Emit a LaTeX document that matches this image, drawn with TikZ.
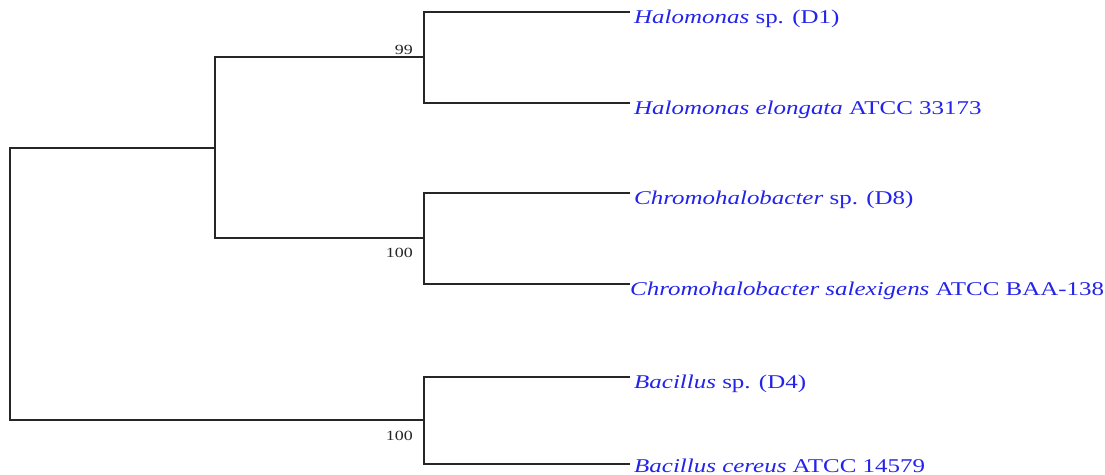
\documentclass[tikz,border=0pt]{standalone}
\usepackage{fontspec}
\setmainfont{Liberation Serif}
\usepackage{graphicx}
\usetikzlibrary{positioning}
\definecolor{taxonblue}{RGB}{35,35,235}
\newcommand{\wide}[1]{\scalebox{1.28}[1]{#1}}
\tikzset{
  branch/.style={line width=1.3pt, black!85},
  taxon/.style={anchor=base west, inner xsep=4pt, inner ysep=0pt, text=taxonblue, font=\fontsize{19.5}{22}\selectfont},
  boot/.style={inner sep=1pt, font=\fontsize{14}{16}\selectfont, text=black!85}
}

\begin{document}
\begin{tikzpicture}[x=1pt,y=-1pt]
\useasboundingbox (0,0) rectangle (1105,474);
% internal nodes
\coordinate (root) at (10,284);
\coordinate (na) at (215,148);
\coordinate (n1) at (424,57);
\coordinate (n2) at (424,238);
\coordinate (n3) at (424,420);
% leaf tips
\coordinate (l1) at (630,12);
\coordinate (l2) at (630,103);
\coordinate (l3) at (630,193);
\coordinate (l4) at (630,284);
\coordinate (l5) at (630,377);
\coordinate (l6) at (630,464);
% taxa
\node (t1) [taxon] at ([yshift=-11pt]l1) {\wide{\textit{Halomonas} sp. (D1)}};
\node (t2) [taxon] at ([yshift=-11pt]l2) {\wide{\textit{Halomonas elongata} ATCC 33173}};
\node (t3) [taxon] at ([yshift=-11pt]l3) {\wide{\textit{Chromohalobacter} sp. (D8)}};
\node (t4) [taxon, inner xsep=0pt] at ([yshift=-11pt]l4) {\wide{\textit{Chromohalobacter salexigens} ATCC BAA-138}};
\node (t5) [taxon] at ([yshift=-11pt]l5) {\wide{\textit{Bacillus} sp. (D4)}};
\node (t6) [taxon] at ([yshift=-8pt]l6) {\wide{\textit{Bacillus cereus} ATCC 14579}};

\draw [branch] (root) |- (na);
\draw [branch] (root) |- (n3);
\draw [branch] (na) |- (n1);
\draw [branch] (na) |- (n2);
\draw [branch] (n1) |- (l1);
\draw [branch] (n1) |- (l2);
\draw [branch] (n2) |- (l3);
\draw [branch] (n2) |- (l4);
\draw [branch] (n3) |- (l5);
\draw [branch] (n3) |- (l6);

% bootstrap values
\node (b1) [boot, anchor=south east] at ([xshift=-10pt,yshift=1pt]n1) {\wide{99}};
\node (b2) [boot, anchor=north east] at ([xshift=-10pt,yshift=-9pt]n2) {\wide{100}};
\node (b3) [boot, anchor=north east] at ([xshift=-10pt,yshift=-10pt]n3) {\wide{100}};
\end{tikzpicture}
\end{document}
